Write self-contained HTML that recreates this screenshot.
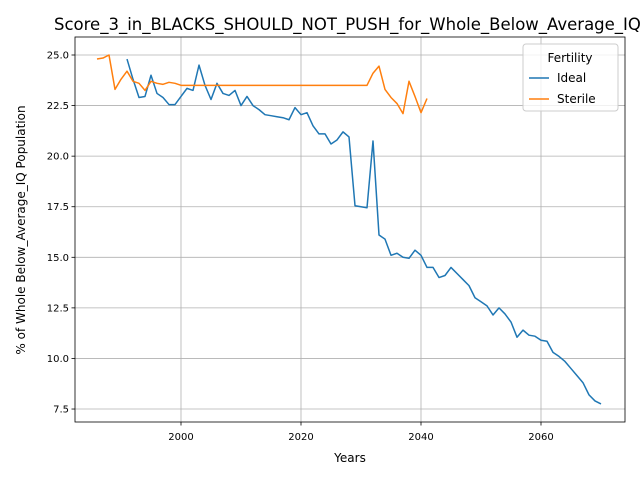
<!DOCTYPE html>
<html><head><meta charset="utf-8"><style>body{margin:0;background:#fff;overflow:hidden}svg{font-family:"DejaVu Sans","Liberation Sans",sans-serif}</style></head>
<body>
<svg id="chart" width="640" height="480"></svg>
<script>
const idealYears=[];for(let y=1991;y<=2070;y++)idealYears.push(y);
const idealValues=[24.8,23.8,22.9,22.95,24.0,23.1,22.9,22.55,22.55,22.95,23.35,23.25,24.5,23.5,22.8,23.6,23.1,23.0,23.25,22.5,22.95,22.5,22.3,22.05,22.0,21.95,21.9,21.8,22.4,22.05,22.15,21.5,21.1,21.1,20.6,20.8,21.2,20.95,17.55,17.5,17.45,20.75,16.1,15.9,15.1,15.2,15.0,14.95,15.35,15.1,14.5,14.5,14.0,14.1,14.5,14.2,13.9,13.6,13.0,12.8,12.6,12.15,12.5,12.2,11.8,11.05,11.4,11.15,11.1,10.9,10.85,10.3,10.1,9.85,9.5,9.15,8.8,8.2,7.9,7.75];
const sterileYears=[];for(let y=1986;y<=2041;y++)sterileYears.push(y);
const sterileValues=[24.8,24.85,25.0,23.3,23.8,24.2,23.7,23.6,23.25,23.7,23.6,23.55,23.65,23.6,23.5,23.5,23.5,23.5,23.5,23.5,23.5,23.5,23.5,23.5,23.5,23.5,23.5,23.5,23.5,23.5,23.5,23.5,23.5,23.5,23.5,23.5,23.5,23.5,23.5,23.5,23.5,23.5,23.5,23.5,23.5,23.5,24.1,24.45,23.3,22.9,22.6,22.1,23.7,22.95,22.15,22.85];
const xTicks=[2000,2020,2040,2060];
const yTicks=[7.5,10.0,12.5,15.0,17.5,20.0,22.5,25.0];
const NS="http://www.w3.org/2000/svg";
const svg=document.getElementById('chart');
const L=75,R=625,T=37,B=422;
const xs=y=>181+(y-2000)*6;
const ys=v=>55+(25-v)*20.23;
function el(tag,attrs,parent){const e=document.createElementNS(NS,tag);for(const k in attrs)e.setAttribute(k,attrs[k]);(parent||svg).appendChild(e);return e;}
function txt(s,attrs){const e=el('text',attrs);e.textContent=s;return e;}
xTicks.forEach(t=>{
  const g=el('line',{x1:xs(t),x2:xs(t),y1:T,y2:B,stroke:'#b0b0b0','stroke-width':0.8});
  
  
  el('line',{x1:xs(t),x2:xs(t),y1:B,y2:B+3.5,stroke:'#000','stroke-width':0.8});
  const l=txt(String(t),{x:xs(t),y:B+18,'text-anchor':'middle','font-size':10});
  
  
});
yTicks.forEach(t=>{
  const g=el('line',{x1:L,x2:R,y1:ys(t),y2:ys(t),stroke:'#b0b0b0','stroke-width':0.8});
  
  
  el('line',{x1:L-3.5,x2:L,y1:ys(t),y2:ys(t),stroke:'#000','stroke-width':0.8});
  const l=txt(t.toFixed(1),{x:L-6,y:ys(t)+3.5,'text-anchor':'end','font-size':10});
  
  
});
function line(xsA,vs,color,name){
  const p=el('polyline',{points:xsA.map((y,i)=>xs(y)+','+ys(vs[i])).join(' '),fill:'none',stroke:color,'stroke-width':1.5,'stroke-linejoin':'round'});
  
  
}
line(idealYears,idealValues,'#1f77b4','ideal-line');
line(sterileYears,sterileValues,'#ff7f0e','sterile-line');
const fr=el('rect',{x:L,y:T,width:R-L,height:B-T,fill:'none',stroke:'#000','stroke-width':0.8});


const ti=txt('Score_3_in_BLACKS_SHOULD_NOT_PUSH_for_Whole_Below_Average_IQ',{x:54,y:30,'font-size':16.5});


const xl=txt('Years',{x:350,y:462,'text-anchor':'middle','font-size':12});


const yl=txt('% of Whole Below_Average_IQ Population',{x:0,y:0,'text-anchor':'middle','font-size':12,transform:'translate(25,230) rotate(-90)'});


const lg=el('g',{});


el('rect',{x:523,y:44,width:95,height:67,rx:3,fill:'#fff','fill-opacity':0.8,stroke:'#ccc'},lg);
const lt=el('text',{x:570,y:62,'text-anchor':'middle','font-size':12},lg);lt.textContent='Fertility';
[['Ideal','#1f77b4',82],['Sterile','#ff7f0e',103]].forEach(([n,c,y])=>{
  const e=el('g',{},lg);
  
  
  el('line',{x1:529,x2:549,y1:y-4,y2:y-4,stroke:c,'stroke-width':1.5},e);
  const t=el('text',{x:557,y:y,'font-size':12},e);t.textContent=n;
});
</script>
</body></html>
